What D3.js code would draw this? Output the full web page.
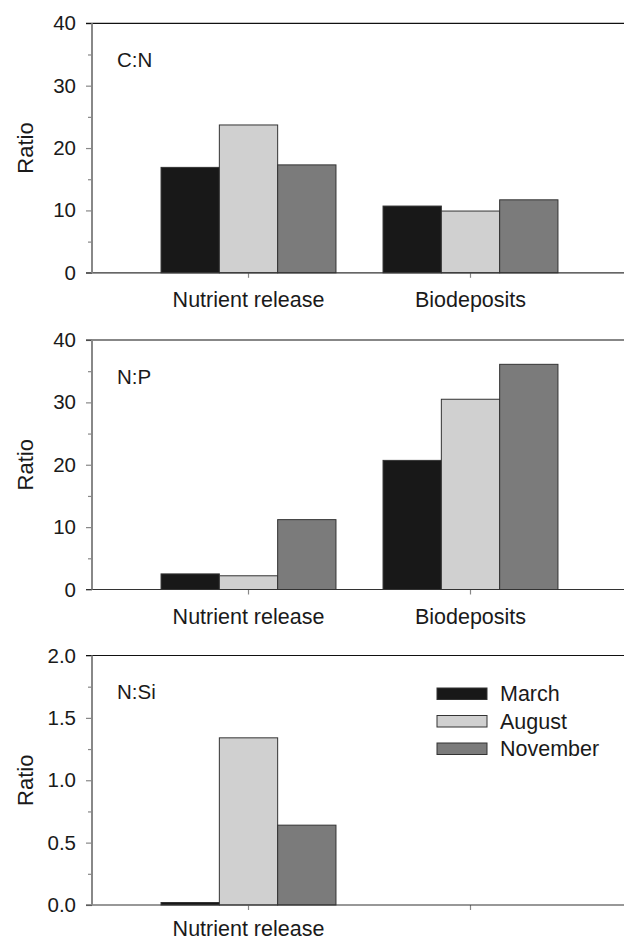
<!DOCTYPE html>
<html>
<head>
<meta charset="utf-8">
<script src="https://cdn.jsdelivr.net/npm/d3@7"></script>
<style>
  body { margin: 0; background: #fff; }
  svg { display: block; }
  text { font-family: "Liberation Sans", Arial, Helvetica, sans-serif; fill: #1a1a1a; }
</style>
</head>
<body>
<div id="vis"></div>
<script>
//data
const CATEGORIES = ["Nutrient release", "Biodeposits"];
const MONTHS = ["March", "August", "November"];
const MONTH_COLORS = ["#181818", "#d0d0d0", "#7b7b7b"];

//C:N
const CN_MARCH = [16.9, 10.7];
const CN_AUGUST = [23.7, 9.9];
const CN_NOVEMBER = [17.3, 11.7];
const CN_TICKS = [0, 10, 20, 30, 40];

//N:P
const NP_MARCH = [2.5, 20.7];
const NP_AUGUST = [2.2, 30.5];
const NP_NOVEMBER = [11.2, 36.1];
const NP_TICKS = [0, 10, 20, 30, 40];

//N:Si (no biodeposit values)
const NSI_MARCH = [0.02, null];
const NSI_AUGUST = [1.34, null];
const NSI_NOVEMBER = [0.64, null];
const NSI_TICKS = [0, 0.5, 1.0, 1.5, 2.0];

const FRAME_WIDTH = 624;
const FRAME_HEIGHT = 942;
const LEFT = 92;
const PLOT_H = 249.5;

const FRAME = d3.select("#vis")
  .append("svg")
  .attr("width", FRAME_WIDTH)
  .attr("height", FRAME_HEIGHT);

//shared x scales
const X_SCALE = d3.scaleBand()
  .domain(CATEGORIES)
  .range([LEFT, 627])
  .paddingInner(0.212)
  .paddingOuter(0.311);

const X_INNER = d3.scaleBand()
  .domain(MONTHS)
  .range([0, X_SCALE.bandwidth()]);

function build_panel(top, label, series, ticks, fmt, showLabels, labelY) {
  const zero = top + PLOT_H;
  const maxY = ticks[ticks.length - 1];
  const Y_SCALE = d3.scaleLinear().domain([0, maxY]).range([zero, top]);
  const g = FRAME.append("g");

  //minor ticks halfway between majors
  const minors = ticks.slice(1).map((t, i) => (t + ticks[i]) / 2);
  g.append("g")
    .attr("transform", "translate(" + LEFT + ",0)")
    .call(d3.axisLeft(Y_SCALE).tickValues(minors).tickSize(4).tickFormat(""))
    .call(a => a.select(".domain").remove())
    .call(a => a.selectAll("line").attr("stroke", "#888").attr("stroke-width", 1.2));

  //major ticks
  g.append("g")
    .attr("transform", "translate(" + LEFT + ",0)")
    .call(d3.axisLeft(Y_SCALE).tickValues(ticks).tickSize(6).tickPadding(10).tickFormat(fmt))
    .call(a => a.select(".domain").remove())
    .call(a => a.selectAll("line").attr("stroke", "#888").attr("stroke-width", 1.2))
    .call(a => a.selectAll("text").attr("font-size", "20.5px").attr("fill", "#1a1a1a")
      .attr("font-family", "'Liberation Sans', Arial, sans-serif"));

  //bars
  const rows = [];
  CATEGORIES.forEach((c, ci) => {
    MONTHS.forEach((m, mi) => {
      const v = series[mi][ci];
      if (v !== null) rows.push({cat: c, month: m, value: v, color: MONTH_COLORS[mi]});
    });
  });
  g.selectAll("rect.bar")
    .data(rows)
    .enter()
    .append("rect")
    .attr("class", "bar")
    .attr("x", d => X_SCALE(d.cat) + X_INNER(d.month))
    .attr("y", d => Y_SCALE(d.value))
    .attr("width", X_INNER.bandwidth())
    .attr("height", d => zero - Y_SCALE(d.value))
    .attr("fill", d => d.color)
    .attr("stroke", "#333")
    .attr("stroke-width", 1);

  //x axis
  g.append("g")
    .attr("transform", "translate(0," + zero + ")")
    .call(d3.axisBottom(X_SCALE).tickSize(5).tickFormat((d, i) => showLabels[i] ? d : ""))
    .call(a => a.select(".domain").remove())
    .call(a => a.selectAll("line").attr("stroke", "#888").attr("stroke-width", 1.2))
    .call(a => a.selectAll("text").attr("font-size", "21.5px").attr("fill", "#1a1a1a")
      .attr("y", labelY).attr("dy", 0)
      .attr("font-family", "'Liberation Sans', Arial, sans-serif"));

  //frame lines
  g.append("line")
    .attr("x1", LEFT - 6).attr("x2", FRAME_WIDTH)
    .attr("y1", top).attr("y2", top)
    .attr("stroke", "#111").attr("stroke-width", 1.2);
  g.append("line")
    .attr("x1", LEFT - 6).attr("x2", FRAME_WIDTH)
    .attr("y1", zero).attr("y2", zero)
    .attr("stroke", "#333").attr("stroke-width", 1.2);
  g.append("line")
    .attr("x1", LEFT).attr("x2", LEFT)
    .attr("y1", top).attr("y2", zero)
    .attr("stroke", "#888").attr("stroke-width", 2);

  //panel label
  g.append("text")
    .attr("x", 117)
    .attr("y", top + 43.5)
    .attr("font-size", "20.5px")
    .text(label);

  //y title
  g.append("text")
    .attr("transform", "translate(33," + (top + PLOT_H / 2) + ") rotate(-90)")
    .attr("text-anchor", "middle")
    .attr("font-size", "22px")
    .text("Ratio");

  return g;
}

build_panel(23.3, "C:N", [CN_MARCH, CN_AUGUST, CN_NOVEMBER], CN_TICKS, d3.format("d"), [true, true], 34.5);
build_panel(340, "N:P", [NP_MARCH, NP_AUGUST, NP_NOVEMBER], NP_TICKS, d3.format("d"), [true, true], 34.5);
const LAST = build_panel(655.5, "N:Si", [NSI_MARCH, NSI_AUGUST, NSI_NOVEMBER], NSI_TICKS, d3.format(".1f"), [true, false], 31);

//legend
const LEGEND = LAST.append("g").attr("transform", "translate(437,688)");
MONTHS.forEach((m, i) => {
  LEGEND.append("rect")
    .attr("x", 0)
    .attr("y", i * 27.5)
    .attr("width", 50)
    .attr("height", 11.5)
    .attr("fill", MONTH_COLORS[i])
    .attr("stroke", "#333")
    .attr("stroke-width", 1);
  LEGEND.append("text")
    .attr("x", 63)
    .attr("y", i * 27.5 + 5.75)
    .attr("dy", "0.35em")
    .attr("font-size", "21.5px")
    .text(m);
});
</script>
</body>
</html>
